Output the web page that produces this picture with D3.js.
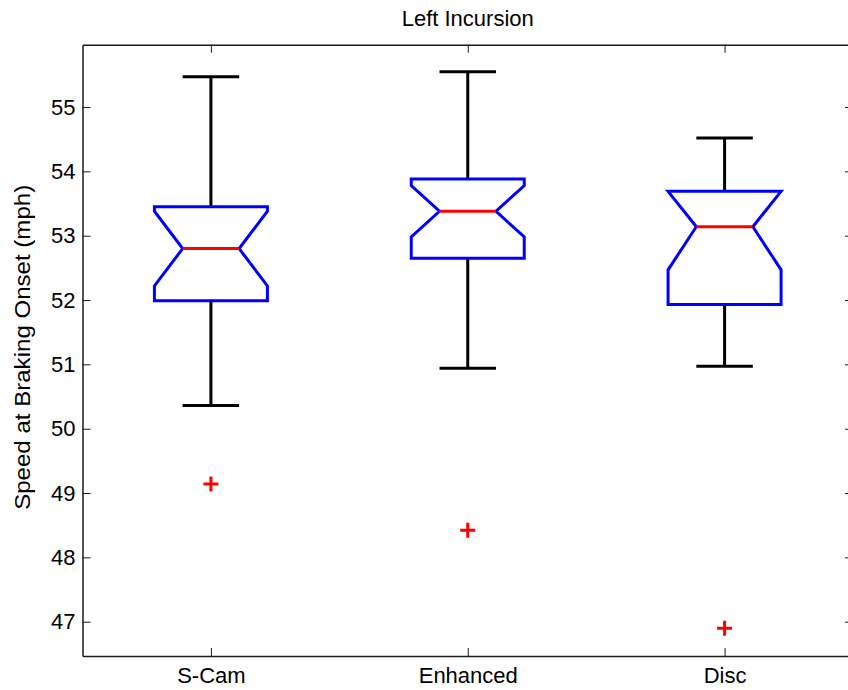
<!DOCTYPE html>
<html>
<head>
<meta charset="utf-8">
<script src="https://cdn.jsdelivr.net/npm/d3@7"></script>
<style>
  html, body { margin: 0; padding: 0; background: #fff; }
  svg { display: block; }
  text { font-family: "Liberation Sans", Arial, Helvetica, sans-serif; fill: #000; }
</style>
</head>
<body>
<svg id="chart" width="848" height="690"></svg>
<script>
// Notched box plot: speed at braking onset for each display condition.
const categories   = ["S-Cam", "Enhanced", "Disc"];
const upperWhisker = [55.47, 55.55, 54.52];
const q3           = [53.45, 53.88, 53.69];
const medians      = [52.80, 53.38, 53.14];
const q1           = [51.99, 52.65, 51.93];
const lowerWhisker = [50.36, 50.94, 50.97];
const notchLow     = [52.22, 52.98, 52.47];
const notchHigh    = [53.38, 53.78, 53.81];
const outliers     = [[49.14], [48.42], [46.90]];
const yTicks       = [47, 48, 49, 50, 51, 52, 53, 54, 55];
const yLimits      = [46.467, 55.969];

const titleText = "Left Incursion";
const yLabelText = "Speed at Braking Onset (mph)";

const svg = d3.select("#chart");
const plot = { left: 82.5, right: 853, top: 44.7, bottom: 656 };

const x = d3.scaleLinear().domain([0.5, categories.length + 0.5]).range([plot.left, plot.right]);
const y = d3.scaleLinear().domain(yLimits).range([plot.bottom, plot.top]);

const boxWidth = 0.44;       // in category units
const notchInset = 0.25;     // fraction of box width pulled in at the median
const capWidth = 0.22;

const fontSize = 22;
const tickLen = 8;

// Whiskers
const g = svg.append("g");
categories.forEach((c, i) => {
  const cx = x(i + 1);
  const hw = (x(i + 1 + capWidth / 2) - cx);
  g.append("line").attr("x1", cx).attr("x2", cx)
    .attr("y1", y(q3[i])).attr("y2", y(upperWhisker[i]))
    .attr("stroke", "#000").attr("stroke-width", 3);
  g.append("line").attr("x1", cx).attr("x2", cx)
    .attr("y1", y(q1[i])).attr("y2", y(lowerWhisker[i]))
    .attr("stroke", "#000").attr("stroke-width", 3);
  g.append("line").attr("x1", cx - hw).attr("x2", cx + hw)
    .attr("y1", y(upperWhisker[i])).attr("y2", y(upperWhisker[i]))
    .attr("stroke", "#000").attr("stroke-width", 3);
  g.append("line").attr("x1", cx - hw).attr("x2", cx + hw)
    .attr("y1", y(lowerWhisker[i])).attr("y2", y(lowerWhisker[i]))
    .attr("stroke", "#000").attr("stroke-width", 3);
});

// Notched boxes (notch clipped to the box when it reaches past a quartile)
const line = d3.line();
categories.forEach((c, i) => {
  const l = x(i + 1 - boxWidth / 2), r = x(i + 1 + boxWidth / 2);
  const il = x(i + 1 - boxWidth / 2 + boxWidth * notchInset);
  const ir = x(i + 1 + boxWidth / 2 - boxWidth * notchInset);
  const nTop = Math.min(notchHigh[i], q3[i]);
  const nBot = Math.max(notchLow[i], q1[i]);
  const pts = [
    [l, y(q3[i])], [l, y(nTop)], [il, y(medians[i])], [l, y(nBot)], [l, y(q1[i])],
    [r, y(q1[i])], [r, y(nBot)], [ir, y(medians[i])], [r, y(nTop)], [r, y(q3[i])]
  ];
  g.append("path").attr("d", line(pts) + "Z")
    .attr("fill", "none").attr("stroke", "#0000ff").attr("stroke-width", 3)
    .attr("stroke-linejoin", "miter");
  g.append("line").attr("x1", il).attr("x2", ir)
    .attr("y1", y(medians[i])).attr("y2", y(medians[i]))
    .attr("stroke", "#ff0000").attr("stroke-width", 3);
});

// Outliers drawn as plus markers
const plusHalf = 7.5;
categories.forEach((c, i) => {
  outliers[i].forEach(v => {
    const px = x(i + 1), py = y(v);
    g.append("path")
      .attr("d", `M${px - plusHalf},${py}H${px + plusHalf}M${px},${py - plusHalf}V${py + plusHalf}`)
      .attr("stroke", "#ff0000").attr("stroke-width", 3).attr("fill", "none");
  });
});

// Axes: left/bottom with labels, mirrored ticks on top/right, all ticks pointing inward
const axisColor = "#1a1a1a";
const yLeft = d3.axisLeft(y).tickValues(yTicks).tickFormat(d3.format("d")).tickSizeInner(-tickLen).tickSizeOuter(0).tickPadding(7);
const yRight = d3.axisRight(y).tickValues(yTicks).tickFormat("").tickSizeInner(-tickLen).tickSizeOuter(0);
const xBottom = d3.axisBottom(x).tickValues(categories.map((c, i) => i + 1))
  .tickFormat((d, i) => categories[i]).tickSizeInner(-tickLen).tickSizeOuter(0).tickPadding(11);
const xTop = d3.axisTop(x).tickValues(categories.map((c, i) => i + 1)).tickFormat("").tickSizeInner(-tickLen).tickSizeOuter(0);

function styleAxis(sel) {
  sel.select(".domain").attr("stroke", axisColor).attr("stroke-width", 1.5);
  sel.selectAll(".tick line").attr("stroke", axisColor).attr("stroke-width", 1);
  sel.selectAll(".tick text").attr("font-size", fontSize).attr("fill", "#000")
    .style("font-family", '"Liberation Sans", Arial, sans-serif');
}

svg.append("g").attr("transform", `translate(${plot.left},0)`).call(yLeft).call(styleAxis);
svg.append("g").attr("transform", `translate(${plot.right},0)`).call(yRight).call(styleAxis);
svg.append("g").attr("transform", `translate(0,${plot.bottom})`).call(xBottom).call(styleAxis);
svg.append("g").attr("transform", `translate(0,${plot.top})`).call(xTop).call(styleAxis);

// Title
svg.append("text")
  .attr("x", (plot.left + plot.right) / 2).attr("y", 26)
  .attr("text-anchor", "middle").attr("font-size", fontSize)
  .text(titleText);

// Y-axis label
svg.append("text")
  .attr("transform", `translate(30,${(plot.top + plot.bottom) / 2 - 3}) rotate(-90)`)
  .attr("text-anchor", "middle").attr("font-size", fontSize)
  .attr("textLength", 325).attr("lengthAdjust", "spacingAndGlyphs")
  .text(yLabelText);
</script>
</body>
</html>
